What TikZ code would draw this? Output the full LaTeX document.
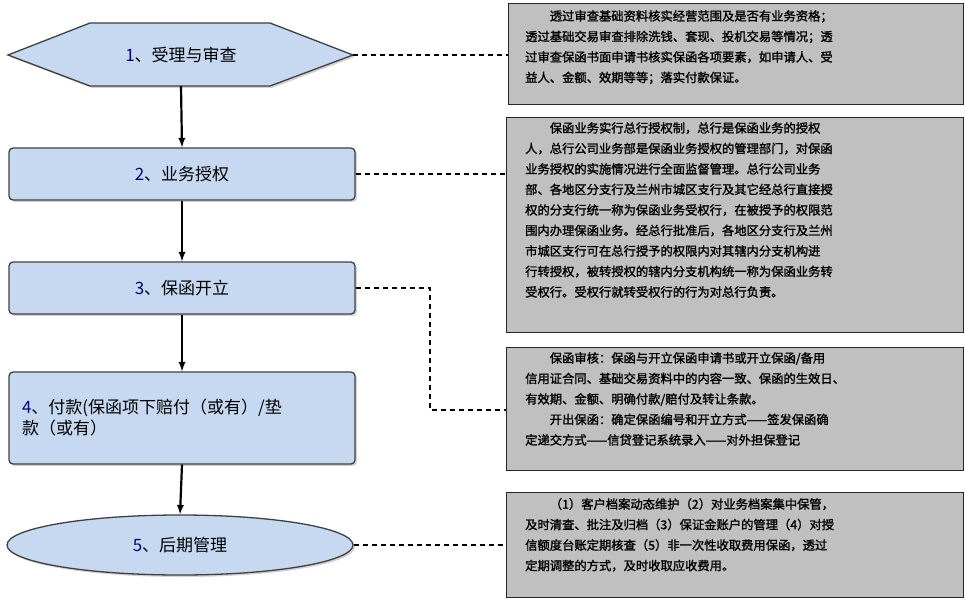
\documentclass[tikz,border=0pt]{standalone}
\usepackage{fontspec}
\newfontfamily\cjk{Noto Sans CJK SC}
\newfontfamily\cjkb{Noto Sans CJK SC}[FakeBold=1.5]
\usetikzlibrary{shapes.geometric,shadows}
\XeTeXlinebreaklocale "zh"
\XeTeXlinebreakskip=0pt plus 2pt
\definecolor{sfill}{HTML}{C6D9F1}
\definecolor{bfill}{HTML}{C0C0C0}
\newcommand{\jl}[1]{\makebox[\linewidth][s]{#1}\\}
\tikzset{
  stepbox/.style={draw=black!75,line width=1.3pt,fill=sfill,drop shadow={opacity=0.35,shadow xshift=2pt,shadow yshift=-2pt},font=\cjk\fontsize{17}{21}\selectfont},
  rbox/.style={draw=black!85,line width=1.2pt,fill=bfill},
  note/.style={font=\cjkb\fontsize{12.3}{20.5}\selectfont,align=left,anchor=north west,inner sep=0pt},
  flow/.style={-latex,line width=2.2pt,black},
  dashlink/.style={line width=1.1pt,dash pattern=on 5pt off 4pt}
}
\begin{document}
\begin{tikzpicture}[x=1pt,y=-1pt]
\useasboundingbox (0,0) rectangle (965,599);
% left steps
\draw[stepbox] (8,55) -- (90,23) -- (270,23) -- (353,55) -- (270,86) -- (90,86) -- cycle;
\node[font=\cjk\fontsize{17}{21}\selectfont] (n1) at (181,55) {{\color{blue!50!black}1}、受理与审查};
\coordinate (n1e) at (353,55);
\node[stepbox,rectangle,rounded corners=4pt,minimum width=346pt,minimum height=52pt] (n2) at (182,174) {{\color{blue!50!black}2}、业务授权};
\node[stepbox,rectangle,rounded corners=4pt,minimum width=346pt,minimum height=52pt] (n3) at (182,288) {{\color{blue!50!black}3}、保函开立};
\node[stepbox,rectangle,rounded corners=4pt,minimum width=346pt,minimum height=92pt,align=left,text width=320pt] (n4) at (182,418) {{\color{blue!50!black}4}、付款(保函项下赔付（或有）/垫\\款（或有）};
\node[stepbox,ellipse,minimum width=346pt,minimum height=60pt] (n5) at (180,545) {{\color{blue!50!black}5}、后期管理};
\draw[flow] (181,86) -- (n2.north);
\draw[flow] (n2.south) -- (n3.north);
\draw[flow] (n3.south) -- (n4.north);
\draw[flow] (n4.south) -- (n5.north);
% right boxes
\node[rbox,minimum width=455pt,minimum height=101pt,anchor=north west] (b1) at (508,3) {};
\node[rbox,minimum width=457pt,minimum height=215pt,anchor=north west] (b2) at (506,117) {};
\node[rbox,minimum width=457pt,minimum height=123pt,anchor=north west] (b3) at (506,347) {};
\node[rbox,minimum width=457pt,minimum height=105pt,anchor=north west] (b4) at (506,492) {};
\node[note,text width=422pt] (t1) at (525,10) {%
\jl{\hspace*{2em}透过审查基础资料核实经营范围及是否有业务资格；}%
\jl{透过基础交易审查排除洗钱、套现、投机交易等情况；透}%
\jl{过审查保函书面申请书核实保函各项要素，如申请人、受}%
益人、金额、效期等等；落实付款保证。};
\node[note,text width=422pt] (t2) at (525,122) {%
\jl{\hspace*{2em}保函业务实行总行授权制，总行是保函业务的授权}%
\jl{人，总行公司业务部是保函业务授权的管理部门，对保函}%
\jl{业务授权的实施情况进行全面监督管理。总行公司业务}%
\jl{部、各地区分支行及兰州市城区支行及其它经总行直接授}%
\jl{权的分支行统一称为保函业务受权行，在被授予的权限范}%
\jl{围内办理保函业务。经总行批准后，各地区分支行及兰州}%
\jl{市城区支行可在总行授予的权限内对其辖内分支机构进}%
\jl{行转授权，被转授权的辖内分支机构统一称为保函业务转}%
受权行。受权行就转受权行的行为对总行负责。};
\node[note,text width=422pt] (t3) at (525,352) {%
\jl{\hspace*{2em}保函审核：保函与开立保函申请书或开立保函/备用}%
\jl{信用证合同、基础交易资料中的内容一致、保函的生效日、}%
有效期、金额、明确付款/赔付及转让条款。\\
\jl{\hspace*{2em}开出保函：确定保函编号和开立方式——签发保函确}%
定递交方式——信贷登记系统录入——对外担保登记};
\node[note,text width=422pt] (t4) at (525,498) {%
\jl{\hspace*{2em}（1）客户档案动态维护（2）对业务档案集中保管，}%
\jl{及时清查、批注及归档（3）保证金账户的管理（4）对授}%
\jl{信额度台账定期核查（5）非一次性收取费用保函，透过}%
定期调整的方式，及时收取应收费用。};
% dashed connectors
\draw[dashlink] (n1e) -- (b1.west |- n1e);
\draw[dashlink] (n2.east) -- (b2.west |- n2.east);
\coordinate (c3) at (430,410);
\draw[dashlink] (n3.east) -| (c3) -- (b3.west |- c3);
\draw[dashlink] (n5.east) -- (b4.west |- n5.east);
\end{tikzpicture}
\end{document}
